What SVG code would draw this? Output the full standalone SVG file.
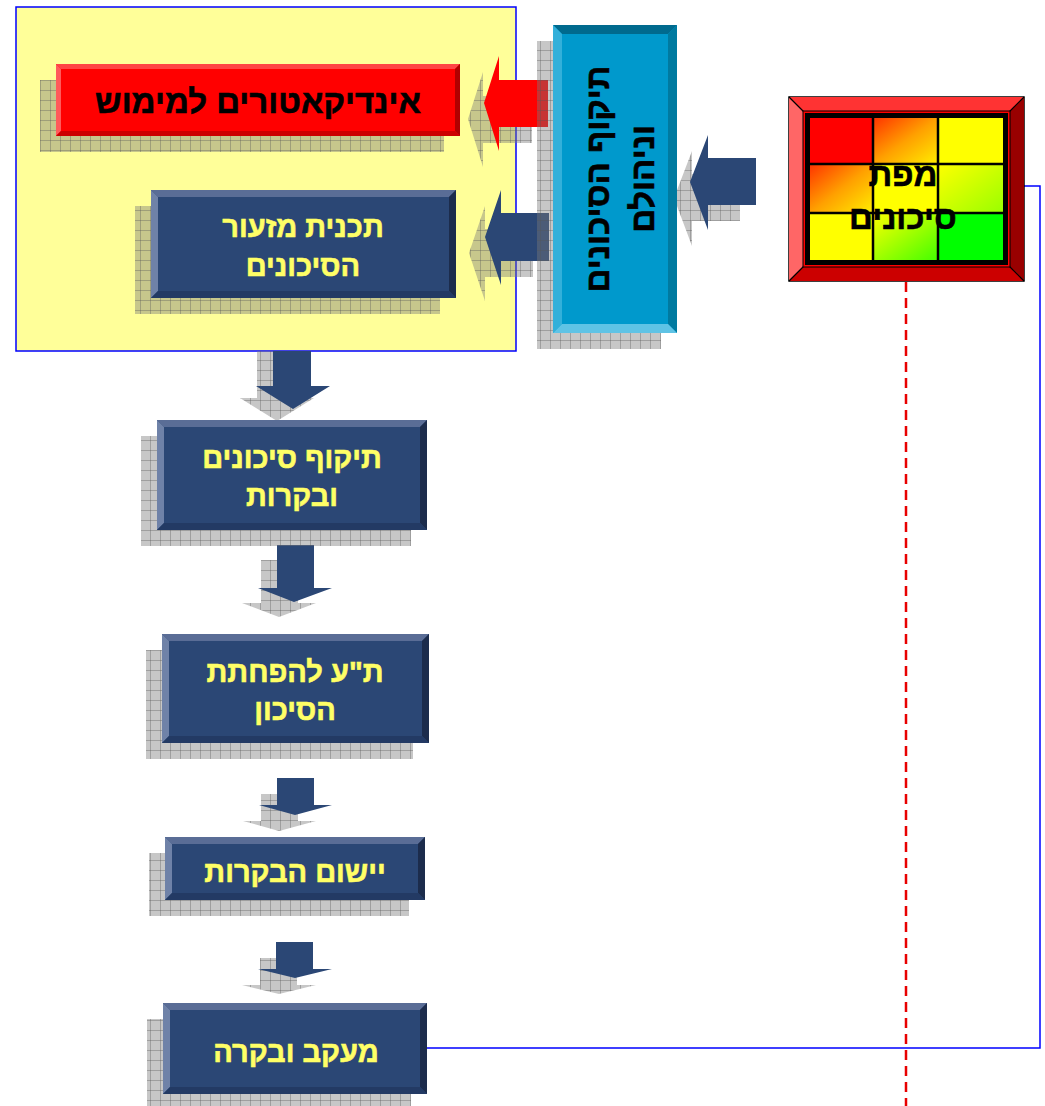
<svg xmlns="http://www.w3.org/2000/svg" width="1045" height="1106" viewBox="0 0 1045 1106">
<style>
.t{font-family:"Liberation Sans","DejaVu Sans",Arial,sans-serif;font-weight:bold;font-size:29px;text-anchor:middle;direction:rtl;stroke-width:0.6}
.ty{fill:#FFFF66;stroke:#FFFF66}
.tk{fill:#000;stroke:#000;font-size:33px}
.nv{fill:#2B4775}
.nt{fill:#5A6D96}
.nl{fill:#6F82A8}
.nr{fill:#1C2C4C}
.nb{fill:#233A64}
.sh{fill:url(#grid)}
.ar{fill:#2B4775}
</style>
<defs>
<pattern id="grid" width="10" height="10" patternUnits="userSpaceOnUse">
<rect width="10" height="10" fill="#797979" fill-opacity="0.42"/>
<path d="M0 0.5H10M0.5 0V10" stroke="#555" stroke-opacity="0.35" stroke-width="1" fill="none"/>
</pattern>
<linearGradient id="gRO" x1="0" y1="0" x2="1" y2="1">
<stop offset="0" stop-color="#FF3300"/><stop offset="0.5" stop-color="#FFA000"/><stop offset="1" stop-color="#FFEE00"/>
</linearGradient>
<linearGradient id="gYG1" x1="0" y1="0" x2="1" y2="1">
<stop offset="0" stop-color="#FFFF00"/><stop offset="1" stop-color="#99FF00"/>
</linearGradient>
<linearGradient id="gYG2" x1="0" y1="0" x2="1" y2="1">
<stop offset="0" stop-color="#FFFF00"/><stop offset="1" stop-color="#44FF00"/>
</linearGradient>
</defs>

<g id="container">
<rect x="16" y="7" width="500" height="344" fill="#FFFF99" stroke="#0000FF" stroke-width="1.5"/>
</g>

<g id="connectors">
<polyline points="1024,186 1040,186 1040,1048 426,1048" fill="none" stroke="#0000FF" stroke-width="1.5"/>
<line x1="906" y1="282" x2="906" y2="1106" stroke="#E80000" stroke-width="2.5" stroke-dasharray="10,6"/>
<polygon class="sh" points="483,96 532,96 532,143 483,143 483,72 468,119 483,167 483,143"/>
<polygon class="sh" points="485,229 533,229 533,277 485,277 485,206 469,253 485,301"/>
<polygon class="sh" points="692,174 740,174 740,221 692,221 692,151 674,198 692,246"/>
<polygon class="sh" points="257,351 295,351 295,398 314,398 277,421 240,398 257,398"/>
<polygon class="sh" points="261,560 298,560 298,603 316,603 279,617 242,603 261,603"/>
<polygon class="sh" points="261,794 298,794 298,821 316,821 279,831 243,821 261,821"/>
<polygon class="sh" points="260,958 297,958 297,985 316,985 279,994 242,985 260,985"/>
<polygon fill="#FF0000" points="499,80 548,80 548,127 499,127 499,56 484,103 499,151"/>
<polygon class="ar" points="501,213 549,213 549,261 501,261 501,190 485,237 501,285"/>
<polygon class="ar" points="708,158 756,158 756,205 708,205 708,135 690,182 708,230"/>
<polygon class="ar" points="273,351 311,351 311,386 330,386 293,409 256,386 273,386"/>
<polygon class="ar" points="277,545 314,545 314,588 332,588 294,602 258,588 277,588"/>
<polygon class="ar" points="277,778 314,778 314,805 332,805 295,815 259,805 277,805"/>
<polygon class="ar" points="276,942 313,942 313,969 332,969 295,978 258,969 276,969"/>
</g>

<g id="n-indicators">
<rect class="sh" x="40" y="80" width="404" height="72"/>
<rect x="56" y="64" width="404" height="72" fill="#FF0000"/>
<polygon fill="#FF4444" points="56,64 460,64 455,69 61,69"/>
<polygon fill="#FF5A5A" points="56,64 61,69 61,131 56,136"/>
<polygon fill="#B00000" points="460,64 460,136 455,131 455,69"/>
<polygon fill="#CC0000" points="56,136 460,136 455,131 61,131"/>
<text class="t tk" x="258" y="113">אינדיקאטורים למימוש</text>
</g>

<g id="n-plan">
<rect class="sh" x="135" y="206" width="305" height="108"/>
<rect class="nv" x="151" y="190" width="305" height="108"/>
<polygon class="nt" points="151,190 456,190 449,197 158,197"/>
<polygon class="nl" points="151,190 158,197 158,291 151,298"/>
<polygon class="nr" points="456,190 456,298 449,291 449,197"/>
<polygon class="nb" points="151,298 456,298 449,291 158,291"/>
<text class="t ty" x="303" y="237">תכנית מזעור</text>
<text class="t ty" x="303" y="276">הסיכונים</text>
</g>

<g id="n-validation">
<rect class="sh" x="537" y="41" width="124" height="308"/>
<rect x="553" y="25" width="124" height="308" fill="#0099CC"/>
<polygon fill="#006A8E" points="553,25 677,25 668,34 562,34"/>
<polygon fill="#33B0DA" points="553,25 562,34 562,324 553,333"/>
<polygon fill="#007AA0" points="677,25 677,333 668,324 668,34"/>
<polygon fill="#5FC3E5" points="553,333 677,333 668,324 562,324"/>
<g transform="translate(616,179) rotate(-90)">
<text class="t tk" x="0" y="-7">תיקוף הסיכונים</text>
<text class="t tk" x="0" y="38">וניהולם</text>
</g>
</g>

<g id="n-riskmap">
<rect x="789" y="97" width="235" height="184" fill="#FF0000" stroke="#000" stroke-width="1.5"/>
<polygon fill="#FF3333" points="789,97 1024,97 1009,112 804,112"/>
<polygon fill="#FF6666" points="789,97 804,112 804,266 789,281"/>
<polygon fill="#990000" points="1024,97 1024,281 1009,266 1009,112"/>
<polygon fill="#CC0000" points="789,281 1024,281 1009,266 804,266"/>
<g stroke="#000" stroke-width="1.2" fill="none">
<line x1="789" y1="97" x2="804" y2="112"/><line x1="1024" y1="97" x2="1009" y2="112"/>
<line x1="789" y1="281" x2="804" y2="266"/><line x1="1024" y1="281" x2="1009" y2="266"/>
</g>
<rect x="803" y="111" width="207" height="156" fill="#FF0000" stroke="#000" stroke-width="1"/>
<rect x="805" y="113" width="203" height="152" fill="#000"/>
<rect x="810" y="118" width="63" height="46" fill="#FF0000"/>
<rect x="873" y="118" width="65" height="46" fill="url(#gRO)"/>
<rect x="938" y="118" width="65" height="46" fill="#FFFF00"/>
<rect x="810" y="164" width="63" height="49" fill="url(#gRO)"/>
<rect x="873" y="164" width="65" height="49" fill="#FFFF00"/>
<rect x="938" y="164" width="65" height="49" fill="url(#gYG1)"/>
<rect x="810" y="213" width="63" height="47" fill="#FFFF00"/>
<rect x="873" y="213" width="65" height="47" fill="url(#gYG2)"/>
<rect x="938" y="213" width="65" height="47" fill="#00FF00"/>
<g stroke="#000" stroke-width="2.5">
<line x1="873" y1="118" x2="873" y2="260"/><line x1="938" y1="118" x2="938" y2="260"/>
<line x1="810" y1="164" x2="1003" y2="164"/><line x1="810" y1="213" x2="1003" y2="213"/>
</g>
<text class="t tk" x="903" y="186">מפת</text>
<text class="t tk" x="903" y="229">סיכונים</text>
</g>

<g id="n-controls">
<rect class="sh" x="141" y="436" width="270" height="110"/>
<rect class="nv" x="157" y="420" width="270" height="110"/>
<polygon class="nt" points="157,420 427,420 420,427 164,427"/>
<polygon class="nl" points="157,420 164,427 164,523 157,530"/>
<polygon class="nr" points="427,420 427,530 420,523 420,427"/>
<polygon class="nb" points="157,530 427,530 420,523 164,523"/>
<text class="t ty" x="292" y="468">תיקוף סיכונים</text>
<text class="t ty" x="292" y="506">ובקרות</text>
</g>

<g id="n-reduce">
<rect class="sh" x="146" y="650" width="267" height="109"/>
<rect class="nv" x="162" y="634" width="267" height="109"/>
<polygon class="nt" points="162,634 429,634 422,641 169,641"/>
<polygon class="nl" points="162,634 169,641 169,736 162,743"/>
<polygon class="nr" points="429,634 429,743 422,736 422,641"/>
<polygon class="nb" points="162,743 429,743 422,736 169,736"/>
<text class="t ty" x="295" y="682">ת"ע להפחתת</text>
<text class="t ty" x="295" y="720">הסיכון</text>
</g>

<g id="n-implement">
<rect class="sh" x="149" y="853" width="260" height="63"/>
<rect class="nv" x="165" y="837" width="260" height="63"/>
<polygon class="nt" points="165,837 425,837 418,844 172,844"/>
<polygon class="nl" points="165,837 172,844 172,893 165,900"/>
<polygon class="nr" points="425,837 425,900 418,893 418,844"/>
<polygon class="nb" points="165,900 425,900 418,893 172,893"/>
<text class="t ty" x="295" y="882">יישום הבקרות</text>
</g>

<g id="n-monitor">
<rect class="sh" x="147" y="1019" width="264" height="87"/>
<rect class="nv" x="163" y="1003" width="264" height="91"/>
<polygon class="nt" points="163,1003 427,1003 420,1010 170,1010"/>
<polygon class="nl" points="163,1003 170,1010 170,1087 163,1094"/>
<polygon class="nr" points="427,1003 427,1094 420,1087 420,1010"/>
<polygon class="nb" points="163,1094 427,1094 420,1087 170,1087"/>
<text class="t ty" x="296" y="1062">מעקב ובקרה</text>
</g>
</svg>
